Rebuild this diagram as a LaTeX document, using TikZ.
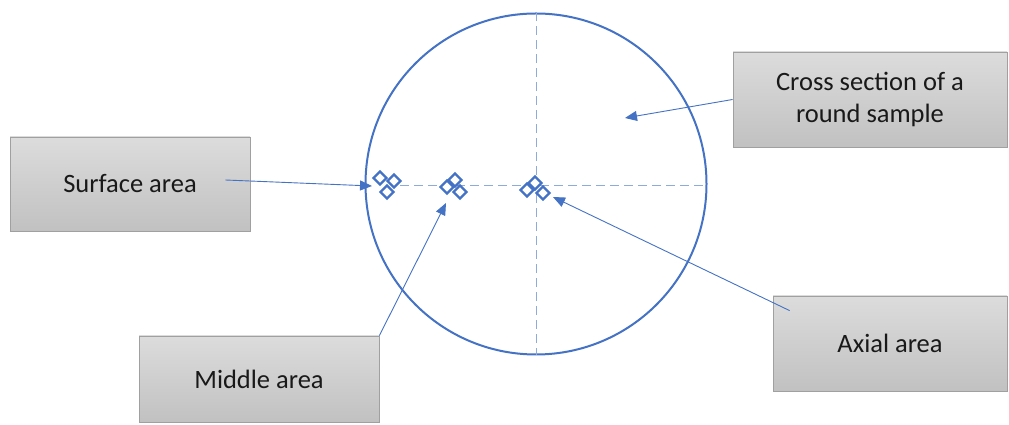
\documentclass[tikz,border=0pt]{standalone}
\usepackage{fontspec}
\setmainfont{Carlito}
\usepackage{tikz}
\usetikzlibrary{arrows.meta,shapes.geometric}

\definecolor{officeblue}{RGB}{68,114,196}
\definecolor{dashblue}{RGB}{143,170,220}
\definecolor{boxtop}{RGB}{220,220,220}
\definecolor{boxbottom}{RGB}{193,193,193}
\definecolor{boxline}{RGB}{160,160,160}

\begin{document}
\begin{tikzpicture}[
    x=1pt, y=1pt,
    areabox/.style={draw=boxline, line width=0.8pt, top color=boxtop, bottom color=boxbottom, align=center, inner sep=0pt, font=\fontsize{26.5}{32}\selectfont, text=black!90},
    areamark/.style={draw=officeblue, line width=2.4pt, fill=white, diamond, minimum size=14pt, inner sep=0pt},
    axisline/.style={draw=dashblue, line width=1pt, dash pattern=on 9pt off 5pt},
    areaarrow/.style={draw=officeblue, line width=0.9pt, -{Triangle[length=12pt,width=10pt]}}
  ]
    \useasboundingbox (0,0) rectangle (1009,425);
    % sample cross section
    \node[circle, draw=officeblue, line width=2pt, minimum size=341pt, inner sep=0pt] (sample) at (536,241) {};
    \draw[axisline] (sample.north) -- (sample.south);
    \draw[axisline] (400,239) -- (sample.east |- 0,239);
    % measuring spots
    \node[areamark] (surf1) at (380,247) {};
    \node[areamark] (surf2) at (394,244) {};
    \node[areamark] (surf3) at (387,233) {};
    \node[areamark] (mid1) at (455,245) {};
    \node[areamark] (mid2) at (447,238) {};
    \node[areamark] (mid3) at (460,233) {};
    \node[areamark] (ax1) at (535,242) {};
    \node[areamark] (ax2) at (527,235) {};
    \node[areamark] (ax3) at (543,232) {};
    % labels
    \node[areabox, minimum width=240pt, minimum height=94pt] (surface) at (130,241) {Surface area};
    \node[areabox, minimum width=274pt, minimum height=95pt] (cross) at (870,325.5) {Cross section of a\\round sample};
    \node[areabox, minimum width=240pt, minimum height=86pt] (middle) at (259,46) {Middle area};
    \node[areabox, minimum width=234pt, minimum height=95pt] (axial) at (890,81.5) {Axial area};
    % arrows
    \coordinate (surfacefrom) at ([xshift=-25pt,yshift=4pt]surface.east);
    \coordinate (surfaceto) at (372,239);
    \coordinate (middleto) at (446,222);
    \coordinate (axialfrom) at ([xshift=17pt,yshift=-15pt]axial.north west);
    \coordinate (axialto) at (553,228);
    \coordinate (crossto) at (625,307);
    \draw[areaarrow] (surfacefrom) -- (surfaceto);
    \draw[areaarrow] (middle.north east) -- (middleto);
    \draw[areaarrow] (axialfrom) -- (axialto);
    \draw[areaarrow] (cross.west) -- (crossto);
\end{tikzpicture}
\end{document}
